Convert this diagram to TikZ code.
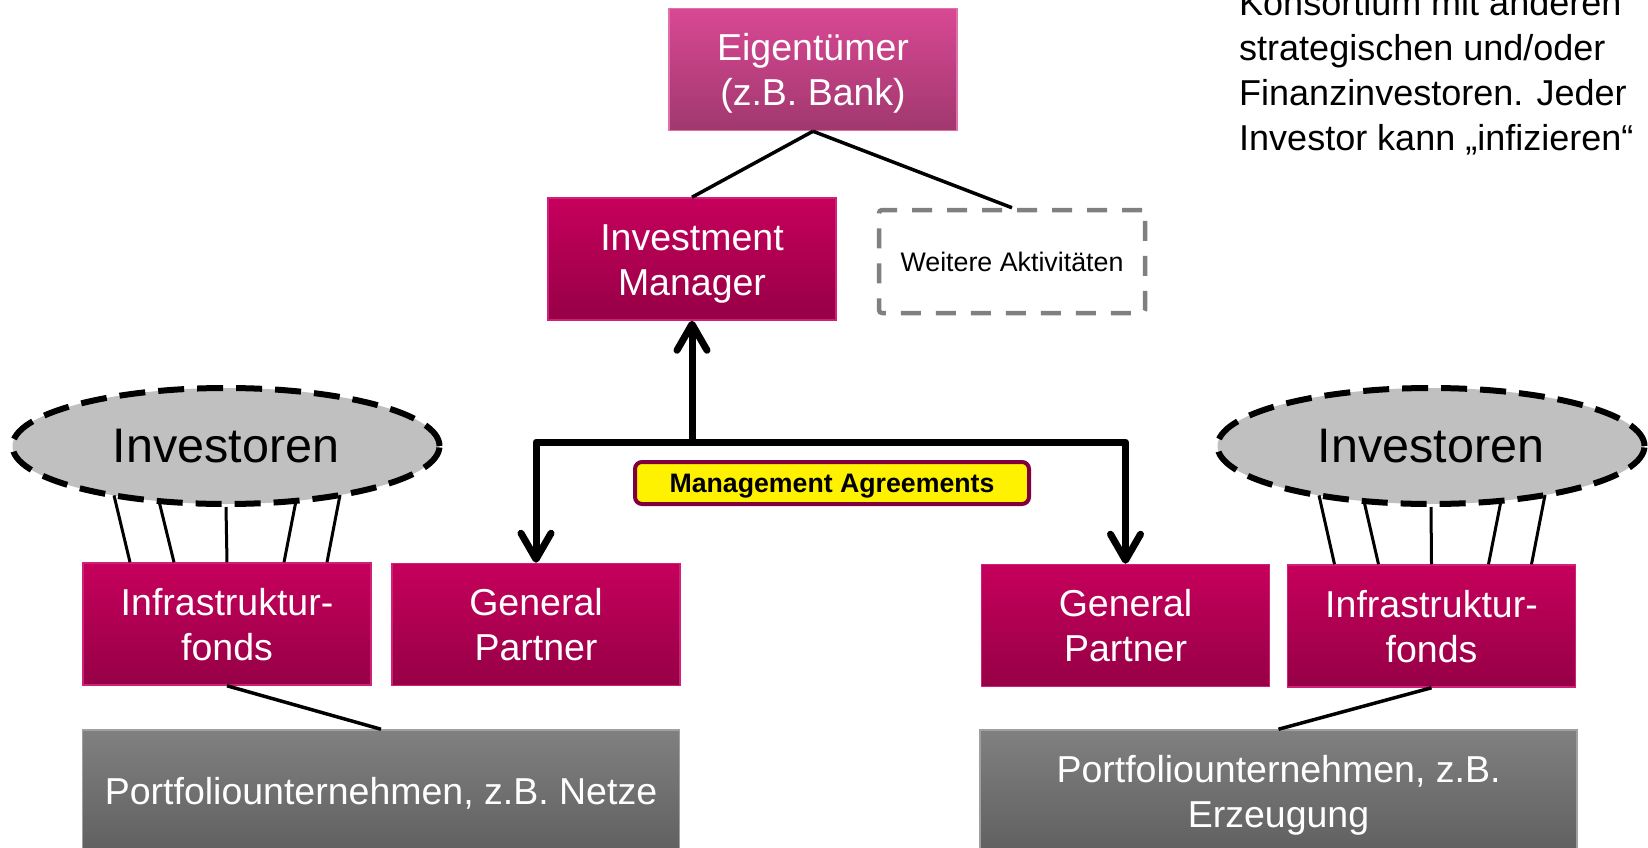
\documentclass[tikz,border=0pt]{standalone}
\usepackage{fontspec}
\setmainfont{Liberation Sans}
\usetikzlibrary{arrows.meta,shapes.geometric,calc}
\definecolor{eigtop}{HTML}{D94894}
\definecolor{eigbot}{HTML}{A0386E}
\definecolor{eigborder}{HTML}{E070A8}
\definecolor{magtop}{HTML}{C6005C}
\definecolor{magbot}{HTML}{960046}
\definecolor{magborder}{HTML}{D0207A}
\definecolor{graytop}{HTML}{808080}
\definecolor{graybot}{HTML}{606060}
\definecolor{grayborder}{HTML}{A0A0A0}
\definecolor{invfill}{HTML}{C0C0C0}
\definecolor{mgmtborder}{HTML}{80003F}
\definecolor{dashgray}{HTML}{808080}
\begin{document}
\begin{tikzpicture}[x=1pt,y=-1pt,
  box/.style={rectangle, inner sep=0pt, minimum width=288pt, minimum height=122pt,
    text=white, align=center, font=\fontsize{37.5}{45}\selectfont, line width=1.5pt,
    execute at end node={\rule[-10pt]{0pt}{10pt}}},
  oneline/.style={execute at begin node={\rule{0pt}{36pt}}},
  twolines/.style={execute at begin node={\rule{0pt}{82pt}}},
  magbox/.style={box, twolines, top color=magtop, bottom color=magbot, draw=magborder},
  eigbox/.style={box, twolines, top color=eigtop, bottom color=eigbot, draw=eigborder},
  graybox/.style={box, top color=graytop, bottom color=graybot, draw=grayborder, minimum width=597pt},
  invbox/.style={ellipse, fill=invfill, draw=black, line width=6pt, dash pattern=on 26pt off 13pt,
    minimum width=427pt, minimum height=116pt, inner sep=0pt, font=\fontsize{48.5}{58}\selectfont},
  otherbox/.style={rectangle, draw=dashgray, line width=4.5pt, dash pattern=on 20pt off 15pt,
    rounded corners=3pt, minimum width=266pt, minimum height=103pt, inner sep=0pt,
    font=\fontsize{26.8}{32}\selectfont},
  mgmtbox/.style={rectangle, fill=yellow, draw=mgmtborder, line width=4pt, rounded corners=7pt,
    minimum width=394pt, minimum height=42pt, inner sep=0pt, font=\bfseries\fontsize{26.7}{32}\selectfont,
    execute at begin node={\rule{0pt}{25pt}}},
  conn/.style={line width=3.5pt},
  invline/.style={line width=3pt},
  bigarrow/.style={line width=7pt, line join=round, -{Straight Barb[length=26pt,width=30pt,round]}}
]
\useasboundingbox (0,0) rectangle (1648,848);

% nodes
\node[eigbox] (eig) at (813,69.5) {Eigentümer\\(z.B. Bank)};
\node[magbox] (im) at (692,259) {Investment\\Manager};
\node[otherbox] (wa) at (1012,261.5) {Weitere Aktivitäten};
\node[magbox] (gpl) at (536,624.5) {General\\Partner};
\node[magbox] (ifl) at (227,624) {Infrastruktur-\\fonds};
\node[magbox] (gpr) at (1125.5,625.5) {General\\Partner};
\node[magbox] (ifr) at (1431.5,626) {Infrastruktur-\\fonds};
\node[graybox, oneline] (pfl) at (381,791) {Portfoliounternehmen, z.B. Netze};
\node[graybox, twolines] (pfr) at (1278.5,791) {Portfoliounternehmen, z.B.\\Erzeugung};
\node[invbox] (invl) at (226,446) {Investoren};
\node[invbox] (invr) at (1431,446) {Investoren};
\node[mgmtbox] (ma) at (832,483) {Management Agreements};
\node[anchor=north west, inner sep=0pt, align=left, font=\fontsize{36}{45}\selectfont]
  (note) at (1239,-11) {Konsortium mit anderen\\strategischen und/oder\\Finanzinvestoren. Jeder\\Investor kann „infizieren“};

% thin connectors
\draw[conn] (eig.south) -- (im.north);
\draw[conn] (eig.south) -- (wa.north);
\draw[conn] (ifl.south) -- (pfl.north);
\draw[conn] (ifr.south) -- (pfr.north);

% investor lines
\foreach \inv/\fund in {invl/ifl, invr/ifr} {
  \draw[invline] ($(\inv.center)+(-112,49.4)$) -- ($(\fund.north)+(-97,0)$);
  \draw[invline] ($(\inv.center)+(-67,55.1)$) -- ($(\fund.north)+(-53,0)$);
  \draw[invline] (\inv.south) -- (\fund.north);
  \draw[invline] ($(\inv.center)+(70,54.8)$) -- ($(\fund.north)+(57,0)$);
  \draw[invline] ($(\inv.center)+(114,49)$) -- ($(\fund.north)+(100,0)$);
}

% management arrows
\coordinate (split) at (692,442);
\draw[bigarrow] (split) -- (im.south);
\draw[bigarrow] (split) -| (gpl.north);
\draw[bigarrow] (split) -| (gpr.north);
\end{tikzpicture}
\end{document}
